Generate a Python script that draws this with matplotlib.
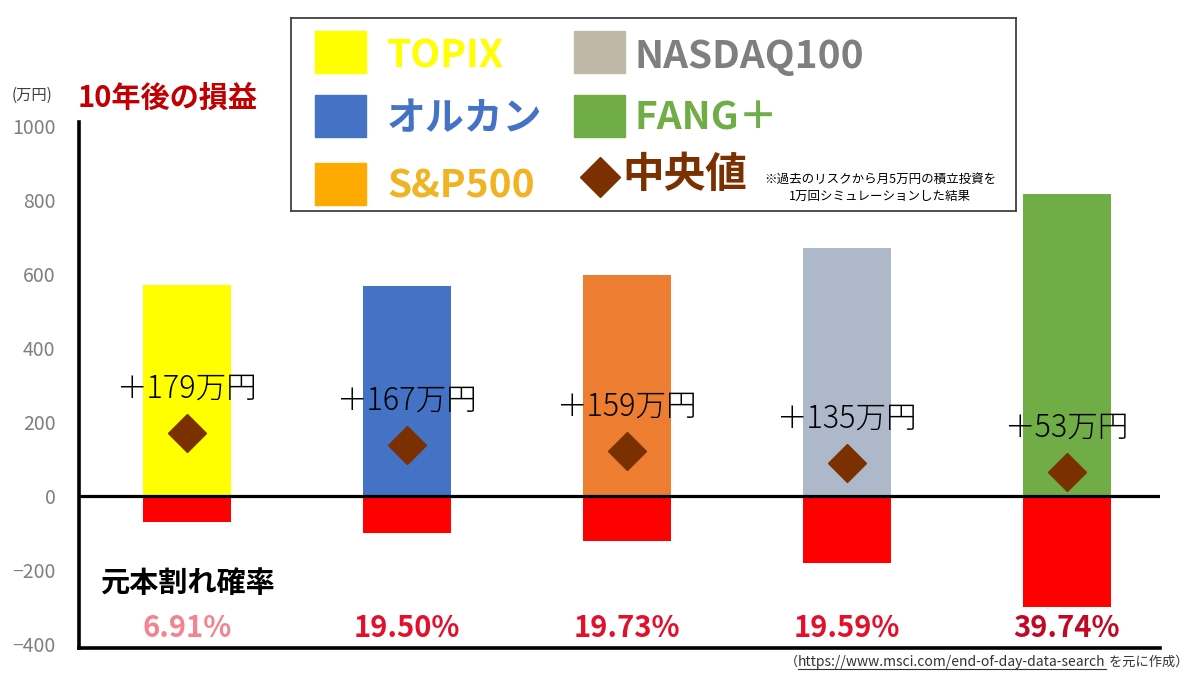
import numpy as np
import matplotlib
matplotlib.use('Agg')
from matplotlib import pyplot as plt
from matplotlib.patches import Rectangle
from matplotlib.lines import Line2D

plt.rcParams['font.family'] = ['Noto Sans CJK JP', 'DejaVu Sans']

# データ（単位：万円）
funds = ['TOPIX', 'オルカン', 'S&P500', 'NASDAQ100', 'FANG＋']
upper = [570, 568, 597, 670, 816]
lower = [-70, -100, -122, -181, -300]
median_pos = [170, 138, 122, 89, 65]
median_label = ['＋179万円', '＋167万円', '＋159万円', '＋135万円', '＋53万円']
loss_prob = ['6.91%', '19.50%', '19.73%', '19.59%', '39.74%']
yticks = [-400, -200, 0, 200, 400, 600, 800, 1000]

bar_colors = ['#FFFF00', '#4472C4', '#ED7D31', '#ADB9CA', '#70AD47']
legend_colors = ['#FFFF00', '#4472C4', '#FFAA00', '#BFB8A6', '#70AD47']
legend_text_colors = ['#FFFF00', '#4472C4', '#F0B323', '#7F7F7F', '#70AD47']
prob_colors = ['#F4838F', '#E3102B', '#E3102B', '#E3102B', '#C00A25']
diamond_color = '#7B3000'

fig = plt.figure(figsize=(12, 6.75), dpi=100)
ax = fig.add_axes([79 / 1200, 27 / 675, 1081 / 1200, 526 / 675])
x = np.arange(len(funds))
ax.bar(x, upper, width=0.4, color=bar_colors, zorder=2)
ax.bar(x, lower, width=0.4, color='#FF0000', zorder=2)
ax.axhline(0, color='black', lw=2.3, zorder=3)
ax.plot(x, median_pos, ls='none', marker='D', ms=19, color=diamond_color, zorder=4)
for xi, yi, s in zip(x, median_pos, median_label):
    ax.annotate(s, (xi, yi), xytext=(0, 32), textcoords='offset points',
                ha='center', va='center', fontsize=22, fontweight='light',
                color='black', zorder=5)

# 元本割れ確率
ax.text(0, -235, '元本割れ確率', ha='center', va='center', fontsize=21, fontweight='bold')
for xi, s, c in zip(x, loss_prob, prob_colors):
    ax.text(xi, -357, s, ha='center', va='center', fontsize=21, fontweight='bold', color=c)

ax.set_xlim(-0.491, 4.423)
ax.set_ylim(-410, 1010)
ax.set_yticks(yticks)
ax.set_xticks([])
ax.tick_params(axis='y', length=0, pad=17, labelsize=14, labelcolor='#7F7F7F')
for sp in ['top', 'right']:
    ax.spines[sp].set_visible(False)
for sp in ['left', 'bottom']:
    ax.spines[sp].set_linewidth(2.6)
    ax.spines[sp].set_color('black')

fig.text(78 / 1200, 1 - 98 / 675, '10年後の損益', fontsize=21, fontweight='bold',
         color='#C00000', va='center')
fig.text(12 / 1200, 1 - 95 / 675, '(万円)', fontsize=11, color='#404040', va='center')

# 凡例（枠の中を画素単位で配置）
lax = fig.add_axes([291 / 1200, 1 - 211 / 675, 725 / 1200, 193 / 675])
lax.set_xlim(0, 725)
lax.set_ylim(193, 0)
lax.set_xticks([])
lax.set_yticks([])
for sp in lax.spines.values():
    sp.set_color('#404040')
    sp.set_linewidth(1.3)

sq_x = [24, 24, 24, 283, 283]
sq_y = [13, 77, 145, 13, 77]
txt_x = [96, 96, 96, 343, 343]
txt_base = [50, 112, 179, 50, 112]
for i, name in enumerate(funds):
    lax.add_patch(Rectangle((sq_x[i], sq_y[i]), 51, 42, color=legend_colors[i]))
    lax.text(txt_x[i], txt_base[i], name, fontsize=28, fontweight='bold',
             color=legend_text_colors[i], va='baseline')
lax.plot([309], [159], ls='none', marker='D', ms=20, color=diamond_color)
lax.text(331, 169, '中央値', fontsize=30, fontweight='bold', color=diamond_color, va='baseline')
lax.text(589, 170, '※過去のリスクから月5万円の積立投資を\n1万回シミュレーションした結果',
         fontsize=9, ha='center', va='center', linespacing=1.35)

# 出典（URLに下線、右端そろえ）
renderer = fig.canvas.get_renderer()
src_y = 1 - 666 / 675
t3 = fig.text(1188 / 1200, src_y, ' を元に作成）', fontsize=9.5, color='#333333',
              va='baseline', ha='right')
bb3 = t3.get_window_extent(renderer)
t2 = fig.text(bb3.x0 / 1200, src_y, 'https://www.msci.com/end-of-day-data-search',
              fontsize=10, color='#333333', va='baseline', ha='right')
bb2 = t2.get_window_extent(renderer)
fig.add_artist(Line2D([bb2.x0 / 1200, bb2.x1 / 1200], [src_y - 2.5 / 675, src_y - 2.5 / 675],
                      color='#333333', lw=0.8))
fig.text(bb2.x0 / 1200, src_y, '（', fontsize=9.5, color='#333333', va='baseline', ha='right')

fig.savefig('out.png', dpi=100)
